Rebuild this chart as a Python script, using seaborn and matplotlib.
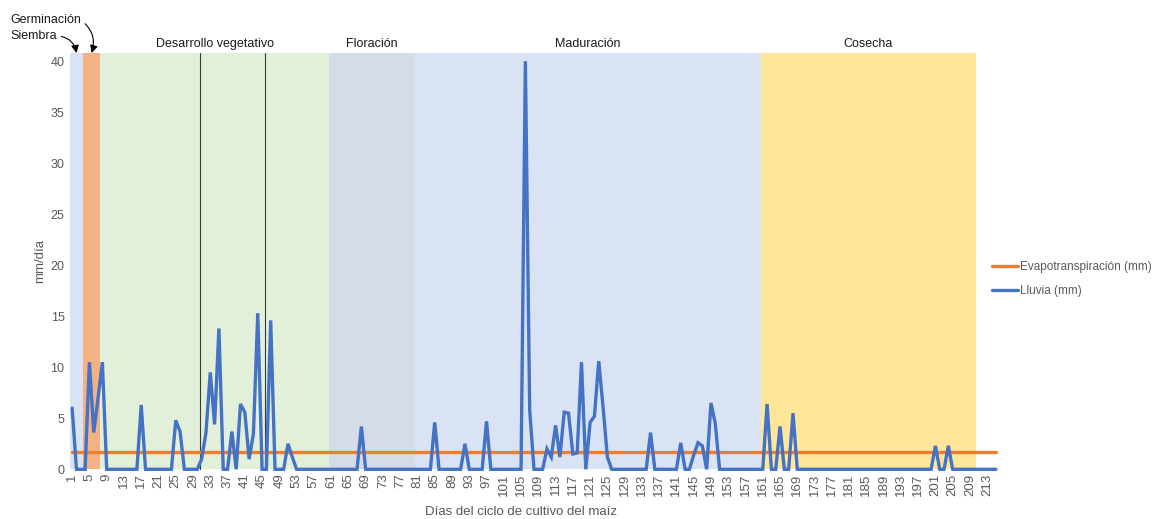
import matplotlib
matplotlib.use("Agg")
import matplotlib.pyplot as plt
from matplotlib.lines import Line2D
import numpy as np
import pandas as pd
import seaborn as sns

sns.set_style("white")
plt.rcParams['font.family'] = ['Liberation Sans', 'DejaVu Sans']

# ---------------- data ----------------
days = list(range(1, 216))
lluvia_mm = [
    6.0, 0, 0, 0, 10.5, 3.6, 7.0, 10.5, 0, 0,          # 1-10
    0, 0, 0, 0, 0, 0, 6.3, 0, 0, 0,                    # 11-20
    0, 0, 0, 0, 4.8, 3.7, 0, 0, 0, 0,                  # 21-30
    1.0, 3.6, 9.5, 4.4, 13.8, 0, 0, 3.7, 0, 6.4,       # 31-40
    5.6, 1.0, 3.5, 15.3, 0, 0, 14.6, 0, 0, 0,          # 41-50
    2.5, 1.2, 0, 0, 0, 0, 0, 0, 0, 0,                  # 51-60
    0, 0, 0, 0, 0, 0, 0, 4.2, 0, 0,                    # 61-70
    0, 0, 0, 0, 0, 0, 0, 0, 0, 0,                      # 71-80
    0, 0, 0, 0, 4.6, 0, 0, 0, 0, 0,                    # 81-90
    0, 2.5, 0, 0, 0, 0, 4.7, 0, 0, 0,                  # 91-100
    0, 0, 0, 0, 0, 40.0, 5.8, 0, 0, 0,                 # 101-110
    2.0, 1.2, 4.3, 1.2, 5.6, 5.5, 1.5, 1.6, 10.5, 0,   # 111-120
    4.6, 5.2, 10.6, 6.1, 1.2, 0, 0, 0, 0, 0,           # 121-130
    0, 0, 0, 0, 3.6, 0, 0, 0, 0, 0,                    # 131-140
    0, 2.6, 0, 0, 1.4, 2.6, 2.3, 0, 6.5, 4.5,          # 141-150
    0, 0, 0, 0, 0, 0, 0, 0, 0, 0,                      # 151-160
    0, 6.4, 0, 0, 4.2, 0, 0, 5.5, 0, 0,                # 161-170
    0, 0, 0, 0, 0, 0, 0, 0, 0, 0,                      # 171-180
    0, 0, 0, 0, 0, 0, 0, 0, 0, 0,                      # 181-190
    0, 0, 0, 0, 0, 0, 0, 0, 0, 0,                      # 191-200
    2.3, 0, 0, 2.3, 0, 0, 0, 0, 0, 0,                  # 201-210
    0, 0, 0, 0, 0,                                     # 211-215
]
evapotranspiracion_mm = 1.7  # constant daily value

phase_names = ["Siembra", "Germinación", "Desarrollo vegetativo",
               "Floración", "Maduración", "Cosecha"]
phase_start = [0.5, 3.5, 7.5, 60.5, 80.5, 160.5]
phase_end = [3.5, 7.5, 60.5, 80.5, 160.5, 210.5]
phase_colors = ["#DAE3F3", "#F4B183", "#E2F0D9", "#D6DCE5", "#DAE3F3", "#FFE699"]
divider_days = [30.6, 45.6]

xtick_days = list(range(1, 214, 4))
ytick_vals = [0, 5, 10, 15, 20, 25, 30, 35, 40]

series_labels = ["Evapotranspiración (mm)", "Lluvia (mm)"]
series_colors = ["#ED7D31", "#4472C4"]

# ---------------- figure ----------------
W, H = 1164, 519
fig = plt.figure(figsize=(W / 100, H / 100), dpi=100)
ax = fig.add_axes([70 / W, (H - 469.3) / H, 928 / W, 416.3 / H])

# phase bands
for s, e, c in zip(phase_start, phase_end, phase_colors):
    ax.axvspan(s, e, ymin=0, ymax=1, color=c, lw=0, zorder=0)
for d in divider_days:
    ax.axvline(d, color="#3A3A3A", lw=0.8, zorder=1)

df = pd.DataFrame({
    "dia": days,
    "lluvia": lluvia_mm,
    "evap": [evapotranspiracion_mm] * len(days),
})
sns.lineplot(data=df, x="dia", y="evap", ax=ax, color=series_colors[0], lw=2.4, zorder=3)
sns.lineplot(data=df, x="dia", y="lluvia", ax=ax, color=series_colors[1], lw=2.4, zorder=4)
for ln in ax.lines:
    ln.set_clip_on(False)
    ln.set_solid_joinstyle("miter")

ax.set_xlim(0.5, 215.5)
ax.set_ylim(0, 40.8)
ax.set_xticks(xtick_days)
ax.set_xticklabels([str(d) for d in xtick_days], rotation=90)
ax.set_yticks(ytick_vals)
ax.tick_params(axis="both", length=0, labelsize=9, colors="#595959")
ax.tick_params(axis="x", pad=3, labelsize=9.5)
ax.tick_params(axis="y", pad=4)
for sp in ax.spines.values():
    sp.set_visible(False)

ax.set_xlabel("Días del ciclo de cultivo del maíz", fontsize=9.5, color="#595959")
ax.xaxis.label.set_va("center")
ax.xaxis.set_label_coords(0.486, -0.1026)
ax.set_ylabel("mm/día", fontsize=9.5, color="#595959")
ax.yaxis.set_label_coords(-0.032, 0.5)
ax.yaxis.label.set_va("center")

# phase titles
for name, s, e in zip(phase_names[2:], phase_start[2:], phase_end[2:]):
    ax.text((s + e) / 2, 1.0216, name, transform=ax.get_xaxis_transform(),
            ha="center", va="center", fontsize=9, color="#1a1a1a")

# small phases with arrows
ax.annotate(phase_names[0], xy=((phase_start[0] + phase_end[0]) / 2, 1.0),
            xycoords=ax.get_xaxis_transform(),
            xytext=(10, H - 36), textcoords="figure pixels",
            ha="left", va="center", fontsize=9, color="#1a1a1a",
            arrowprops=dict(arrowstyle="-|>,head_length=0.5,head_width=0.25",
                            connectionstyle="arc3,rad=-0.4", color="black",
                            lw=0.8, relpos=(1.0, 0.5), shrinkA=1, shrinkB=0))
ax.annotate(phase_names[1], xy=((phase_start[1] + phase_end[1]) / 2, 1.0),
            xycoords=ax.get_xaxis_transform(),
            xytext=(10, H - 20), textcoords="figure pixels",
            ha="left", va="center", fontsize=9, color="#1a1a1a",
            arrowprops=dict(arrowstyle="-|>,head_length=0.5,head_width=0.25",
                            connectionstyle="arc3,rad=-0.35", color="black",
                            lw=0.8, relpos=(1.0, 0.5), shrinkA=1, shrinkB=0))

# legend
handles = [Line2D([0], [0], color=c, lw=2.4) for c in series_colors]
fig.legend(handles, series_labels, loc="upper left",
           bbox_to_anchor=(992 / W, (H - 261) / H), bbox_transform=fig.transFigure,
           frameon=False, fontsize=8.5, handlelength=2.2, handletextpad=0.2,
           labelspacing=1.05, borderpad=0, borderaxespad=0, labelcolor="#595959")

fig.savefig("out.png", dpi=100)
